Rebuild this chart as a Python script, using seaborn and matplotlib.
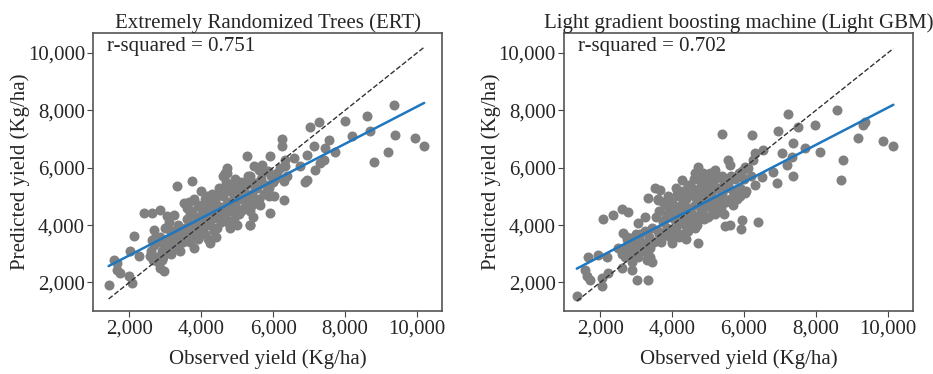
import matplotlib
matplotlib.use("Agg")
import matplotlib.pyplot as plt
import matplotlib.ticker as mticker
import seaborn as sns
import pandas as pd

# Observed vs predicted yield (Kg/ha)

# ERT panel
obs_ert = [9350, 8600, 8000, 8700, 8190, 9396, 9952, 10202, 9192, 8793,
           7032, 7264, 7542, 7125, 7450, 7728, 6940, 7403, 7310, 7171,
           6940, 6894, 6754, 6569, 6245, 6245, 5920, 6337, 6337, 6384,
           6291, 6291, 5967, 6013, 5920, 5642, 5828, 5457, 5272, 5596,
           5364, 5133, 5364, 4947, 4716, 4716, 4808, 4252, 3974, 3742,
           3325, 3511, 3233, 2398, 2630, 2862, 2120, 2028, 2260, 1981,
           2074, 1426, 1657, 1565, 1657, 1750, 3789, 3418, 2862, 2955,
           2584, 2630, 2677, 3047, 3140, 3186,
           2600, 2700, 2750, 2800, 2850, 2900, 2950, 3000, 3050, 3100,
           3150, 3200, 3250, 3300, 3350, 3400, 3450, 3500, 2650, 2800,
           2900, 3000, 3100, 3350, 2700,
           3550, 3600, 3650, 3700, 3750, 3800, 3850, 3900, 3950, 4000,
           4050, 4100, 4150, 4200, 4250, 4300, 4350, 4400, 4450, 4500,
           3600, 3700, 3800, 3900, 4000, 4100, 4200, 4300, 4400, 4450,
           3650, 3750, 3850, 3950, 4050, 4150, 4250, 4350, 4450, 4500,
           4000, 4100, 4200, 3900, 4300,
           4550, 4600, 4650, 4700, 4750, 4800, 4850, 4900, 4950, 5000,
           5050, 5100, 5150, 5200, 5250, 5300, 5350, 5400, 5450, 5500,
           4600, 4650, 4700, 4750, 4800, 4850, 4900, 4950, 5000, 5050,
           5100, 5200, 5300, 5400, 5500, 4550, 4700, 4900, 5100, 5350,
           4600, 4800, 5000, 5200, 5400,
           5550, 5600, 5650, 5700, 5750, 5800, 5850, 5900, 5950, 6000,
           6100, 6200, 5700, 5600, 5900, 6050]
pred_ert = [8190, 7790, 7620, 7270, 7090, 7150, 7035, 6744, 6547, 6198,
            7407, 7581, 6977, 6744, 6686, 6547, 6453, 6279, 6163, 5930,
            5581, 5488, 6047, 6337, 7000, 6744, 6395, 6279, 6047, 5698,
            5523, 4884, 5756, 5000, 4419, 4709, 5349, 6047, 6395, 5930,
            5698, 5349, 4012, 4419, 5988, 5814, 3953, 3372, 3837, 5523,
            5372, 4767, 4360, 4419, 4419, 4535, 3605, 3081, 2907, 2209,
            1977, 1919, 2674, 2791, 2442, 2326, 3198, 3081, 2500, 2384,
            2907, 3488, 3837, 4302, 3837, 3256,
            3100, 3300, 2900, 3400, 3600, 3100, 2900, 3300, 3500, 3200,
            3000, 3600, 3400, 3800, 3200, 3600, 3700, 3400, 2800, 2700,
            2800, 3900, 4100, 4000, 3500,
            3900, 4200, 3700, 4400, 4000, 3600, 4300, 4700, 3900, 4100,
            4500, 3700, 4300, 4800, 4000, 4600, 3800, 4400, 5000, 4200,
            4600, 3400, 4900, 3500, 5200, 4900, 3500, 5100, 3600, 4700,
            4800, 4500, 3800, 4300, 3900, 5000, 4400, 4900, 3900, 5300,
            4600, 4200, 4500, 4100, 4200,
            4600, 5000, 4300, 5500, 4800, 5200, 4500, 5000, 4700, 5300,
            4400, 4900, 5100, 4600, 5400, 4800, 4500, 5100, 4300, 4900,
            5700, 5800, 5300, 4100, 3900, 5400, 4200, 5600, 4000, 5100,
            4500, 5200, 5700, 4700, 5300, 4100, 4700, 4800, 5500, 4000,
            4500, 4700, 4900, 5000, 5500,
            5300, 4900, 5600, 5800, 5100, 5400, 5900, 5300, 5700, 5500,
            5800, 6000, 6100, 5500, 5000, 5600]

# Light GBM panel
obs_lgbm = [1351, 8580, 7236, 7978, 9368, 9322, 6958, 7514, 5383, 6217,
            9182, 9878, 10156, 8117, 7700, 7375, 7051, 7329, 7190, 7375,
            6912, 8765, 8700, 6819, 6495, 6541, 6310, 6263, 6032, 6032,
            6310, 6402, 5939, 5920, 5615, 5475, 5568, 5198, 4734, 4641,
            4270, 3529, 3668, 3622, 3344, 3251, 2602, 2769, 2371, 2093,
            3066, 2649, 2741, 2510, 2185, 1954, 1676, 1583, 1629, 1722,
            2046, 2046, 2232, 2602, 2880, 3019, 3344, 3437, 3344, 2927,
            2788, 4734, 3993, 3807,
            2650, 2700, 2750, 2800, 2850, 2900, 2950, 3000, 3050, 3100,
            3150, 3200, 3250, 3300, 3350, 3400, 3450, 3500, 2700, 2900,
            3100, 3300, 3400, 2600, 3000,
            3550, 3600, 3650, 3700, 3750, 3800, 3850, 3900, 3950, 4000,
            4050, 4100, 4150, 4200, 4250, 4300, 4350, 4400, 4450, 4500,
            3600, 3700, 3800, 3900, 4000, 4100, 4200, 4300, 4400, 4450,
            3650, 3750, 3850, 3950, 4050, 4150, 4250, 4350, 4450, 4500,
            4000, 4100, 4200, 4300, 4400,
            4550, 4600, 4650, 4700, 4750, 4800, 4850, 4900, 4950, 5000,
            5050, 5100, 5150, 5200, 5250, 5300, 5350, 5400, 5450, 5500,
            4600, 4650, 4700, 4750, 4800, 4850, 4900, 4950, 5000, 5050,
            5100, 5200, 5300, 5400, 5500, 4550, 4700, 4900, 5100, 5350,
            4600, 4800, 5000, 5200, 5450,
            5550, 5600, 5650, 5700, 5750, 5800, 5850, 5900, 5950, 6000,
            6100, 6200, 5700, 5600, 5900, 6050]
pred_lgbm = [1536, 8006, 7867, 7507, 7600, 7484, 7275, 7426, 7171, 7136,
             7020, 6939, 6754, 6557, 6672, 6846, 6499, 6383, 6093, 5722,
             5455, 6267, 5571, 5861, 5687, 6614, 6522, 6267, 6035, 5107,
             5397, 4099, 4180, 3855, 4006, 3971, 6267, 5919, 6035, 5803,
             5571, 5304, 5223, 4875, 4933, 4296, 4551, 4470, 4354, 4203,
             4064, 3716, 3600, 3194, 2904, 2962, 2881, 2441, 2209, 2093,
             2151, 1861, 2325, 2499, 2441, 2070, 2070, 2730, 2904, 2962,
             3368, 3368, 3368, 3716,
             3100, 2900, 3500, 3000, 3300, 2700, 3600, 3200, 2900, 3700,
             3400, 3100, 3800, 3300, 3600, 3200, 3900, 3400, 3200, 3400,
             3300, 2800, 2900, 3000, 3700,
             4300, 3800, 4500, 3500, 4100, 4700, 3900, 4400, 3600, 4800,
             4200, 3900, 4600, 5000, 4300, 3700, 4500, 4900, 4100, 4600,
             4900, 3400, 4200, 5000, 3500, 4400, 3600, 5200, 3500, 5400,
             3700, 4800, 4400, 4600, 3800, 5100, 4700, 4000, 3800, 5100,
             4300, 5300, 4100, 4700, 4300,
             4400, 5000, 4700, 5200, 4300, 5400, 4900, 4600, 5300, 5000,
             4700, 5200, 4500, 5600, 4900, 5300, 4600, 5100, 5500, 4800,
             5600, 3900, 4000, 5700, 4500, 5800, 4200, 5600, 4300, 5800,
             4900, 5300, 4700, 5700, 5300, 5300, 4800, 5100, 4400, 5000,
             4200, 4900, 5500, 4400, 4400,
             5400, 4900, 5700, 5200, 5600, 4900, 5800, 5300, 5900, 5600,
             6000, 5700, 4700, 6100, 5000, 5200]

titles = ["Extremely Randomized Trees (ERT)",
          "Light gradient boosting machine (Light GBM)"]
r2_labels = ["r-squared = 0.751", "r-squared = 0.702"]

sns.set_style("ticks")
plt.rcParams['font.family'] = ['Liberation Serif', 'DejaVu Serif']

fig, axes = plt.subplots(1, 2, figsize=(9.33, 3.74), dpi=100)
plt.subplots_adjust(left=0.1, right=0.9785, bottom=0.168, top=0.912, wspace=0.35)

panels = [(obs_ert, pred_ert), (obs_lgbm, pred_lgbm)]
for ax, (obs, pred), title, r2 in zip(axes, panels, titles, r2_labels):
    df = pd.DataFrame({'observed': obs, 'predicted': pred})
    sns.scatterplot(x='observed', y='predicted', data=df, ax=ax,
                    color='#808080', s=52, linewidth=0, alpha=1, zorder=2)
    lo, hi = df['observed'].min(), df['observed'].max()
    ax.plot([lo, hi], [lo, hi], ls='--', color='#333333', lw=1, zorder=3)
    sns.regplot(x='observed', y='predicted', data=df, ax=ax, scatter=False,
                ci=None, color='#1f77c0', line_kws={'lw': 1.8, 'zorder': 4})
    ax.set_xlim(1000, 10700)
    ax.set_ylim(1000, 10700)
    ax.set_xticks([2000, 4000, 6000, 8000, 10000])
    ax.set_yticks([2000, 4000, 6000, 8000, 10000])
    ax.xaxis.set_major_formatter(mticker.StrMethodFormatter('{x:,.0f}'))
    ax.yaxis.set_major_formatter(mticker.StrMethodFormatter('{x:,.0f}'))
    ax.tick_params(labelsize=15, length=4, color='#444444', pad=2)
    for sp in ax.spines.values():
        sp.set_visible(True)
        sp.set_color('#555555')
        sp.set_linewidth(1.2)
    ax.set_title(title, fontsize=15, pad=3)
    ax.set_xlabel('Observed yield (Kg/ha)', fontsize=15, labelpad=8)
    ax.set_ylabel('Predicted yield (Kg/ha)', fontsize=15, labelpad=-2)
    ax.text(0.04, 0.952, r2, transform=ax.transAxes, fontsize=15,
            va='center', ha='left')

plt.savefig('out.png', dpi=100)
